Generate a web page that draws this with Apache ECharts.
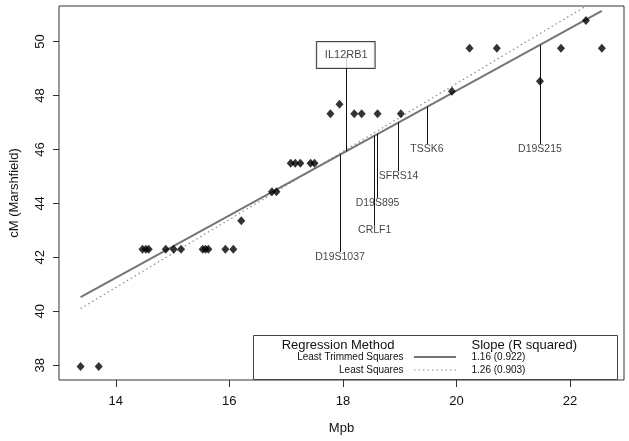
<!DOCTYPE html>
<html>
<head>
<meta charset="utf-8">
<script src="https://cdn.jsdelivr.net/npm/echarts@6/dist/echarts.min.js"></script>
<style>
html,body{margin:0;padding:0;background:#fff;}
#chart{width:629px;height:441px;}
</style>
</head>
<body>
<div id="chart"></div>
<script>
// ---- data ----
var markerMpb = [13.38, 13.70, 14.47, 14.53, 14.58, 14.88, 15.02, 15.15, 15.53, 15.58, 15.63, 15.93, 16.07,
  16.21, 16.75, 16.83, 17.08, 17.16, 17.25, 17.43, 17.50, 17.78, 17.94, 18.20, 18.33, 18.61, 19.02,
  19.92, 20.23, 20.71, 21.47, 21.84, 22.28, 22.56];
var markerCM = [37.95, 37.95, 42.30, 42.30, 42.30, 42.30, 42.30, 42.30, 42.30, 42.30, 42.30, 42.30, 42.30,
  43.36, 44.43, 44.43, 45.49, 45.49, 45.49, 45.49, 45.49, 47.32, 47.68, 47.32, 47.32, 47.32, 47.32,
  48.16, 49.75, 49.75, 48.53, 49.75, 50.78, 49.75];

var ltsLineX = [13.38, 22.56];
var ltsLineY = [40.52, 51.14];
var lsLineX = [13.38, 22.56];
var lsLineY = [40.10, 51.67];

var geneNames = ['D19S1037', 'CRLF1', 'D19S895', 'SFRS14', 'TSSK6', 'D19S215'];
var geneMpb   = [17.95, 18.56, 18.61, 18.98, 19.48, 21.47];
var geneFitCM = [45.81, 46.52, 46.58, 47.01, 47.59, 49.88];
var geneLabelCM = [42, 43, 44, 45, 46, 46];

var boxGeneName = 'IL12RB1';
var boxGeneMpb = 18.05;
var boxGeneFitCM = 45.93;
var boxGeneLabelCM = 49.5;

var xTicks = [14, 16, 18, 20, 22];
var yTicks = [38, 40, 42, 44, 46, 48, 50];

var legendMethods = ['Least Trimmed Squares', 'Least Squares'];
var legendSlopes = ['1.16 (0.922)', '1.26 (0.903)'];

// ---- build ----
var FONT = '"Liberation Sans", Arial, sans-serif';
var TXT = '#111';

var points = markerMpb.map(function (x, i) { return [x, markerCM[i]]; });
var lts = ltsLineX.map(function (x, i) { return [x, ltsLineY[i]]; });
var ls = lsLineX.map(function (x, i) { return [x, lsLineY[i]]; });

var labelData = geneNames.map(function (n, i) { return { name: n, value: [geneMpb[i], geneLabelCM[i]] }; });
var segs = geneNames.map(function (n, i) {
  return [{ coord: [geneMpb[i], geneFitCM[i]] }, { coord: [geneMpb[i], geneLabelCM[i] + 0.2] }];
});
segs.push([{ coord: [boxGeneMpb, boxGeneFitCM] }, { coord: [boxGeneMpb, boxGeneLabelCM] }]);

var chart = echarts.init(document.getElementById('chart'), null, { renderer: 'canvas' });

var legL = 253, legT = 335, legW = 364, legH = 44;

chart.setOption({
  animation: false,
  backgroundColor: '#fff',
  textStyle: { fontFamily: FONT },
  grid: { left: 57, right: 5, top: 6, bottom: 61, show: true, borderColor: '#333', borderWidth: 1, backgroundColor: 'transparent' },
  xAxis: {
    type: 'value', min: 13.0, max: 22.95,
    name: 'Mpb', nameLocation: 'middle', nameGap: 42,
    nameTextStyle: { fontSize: 13, color: TXT, fontFamily: FONT },
    axisLine: { show: false },
    axisTick: { show: true, length: 7, lineStyle: { color: '#333' }, customValues: xTicks },
    axisLabel: { fontSize: 13, color: TXT, margin: 15, fontFamily: FONT, customValues: xTicks },
    splitLine: { show: false }
  },
  yAxis: {
    type: 'value', min: 37.45, max: 51.32,
    name: 'cM (Marshfield)', nameLocation: 'middle', nameGap: 38,
    nameTextStyle: { fontSize: 13, color: TXT, fontFamily: FONT },
    axisLine: { show: false },
    axisTick: { show: true, length: 6, lineStyle: { color: '#333' }, customValues: yTicks },
    axisLabel: { fontSize: 13, color: TXT, margin: 12, rotate: 90, fontFamily: FONT, customValues: yTicks },
    splitLine: { show: false }
  },
  series: [
    {
      type: 'line', data: ls, showSymbol: false, symbol: 'none', z: 3,
      lineStyle: { color: '#8a8a86', width: 1.2, type: [1.5, 3] }
    },
    {
      type: 'line', data: lts, showSymbol: false, symbol: 'none', z: 4,
      lineStyle: { color: '#76766e', width: 2 }
    },
    {
      type: 'scatter', data: points, symbol: 'diamond', symbolSize: [8, 9], z: 5,
      itemStyle: { color: '#000' }
    },
    {
      type: 'scatter', data: labelData, symbolSize: 0, z: 6,
      label: { show: true, position: 'inside', formatter: '{b}', fontSize: 10.5, color: TXT, fontFamily: FONT },
      markLine: {
        silent: true, symbol: ['none', 'none'], label: { show: false },
        lineStyle: { color: '#111', width: 1, type: 'solid' },
        data: segs
      }
    },
    {
      type: 'scatter', data: [{ name: boxGeneName, value: [boxGeneMpb, boxGeneLabelCM] }], symbolSize: 0, z: 10,
      label: {
        show: true, position: 'inside', formatter: '{b}', fontSize: 11, color: TXT, fontFamily: FONT,
        backgroundColor: '#fff', borderColor: '#111', borderWidth: 1, padding: [8, 7, 7, 8]
      }
    }
  ],
  graphic: [
    { type: 'rect', shape: { x: legL + 0.5, y: legT + 0.5, width: legW, height: legH }, style: { fill: '#fff', stroke: '#444', lineWidth: 1 }, z: 20 },
    { type: 'text', x: 338, y: 345, style: { text: 'Regression Method', font: '13px ' + FONT, fill: TXT, textAlign: 'center', textVerticalAlign: 'middle' }, z: 21 },
    { type: 'text', x: 471.5, y: 345, style: { text: 'Slope (R squared)', font: '13px ' + FONT, fill: TXT, textAlign: 'left', textVerticalAlign: 'middle' }, z: 21 },
    { type: 'text', x: 403.5, y: 357, style: { text: legendMethods[0], font: '10px ' + FONT, fill: TXT, textAlign: 'right', textVerticalAlign: 'middle' }, z: 21 },
    { type: 'text', x: 403.5, y: 370, style: { text: legendMethods[1], font: '10px ' + FONT, fill: TXT, textAlign: 'right', textVerticalAlign: 'middle' }, z: 21 },
    { type: 'line', shape: { x1: 414, y1: 357, x2: 456, y2: 357 }, style: { stroke: '#76766e', lineWidth: 2 }, z: 21 },
    { type: 'line', shape: { x1: 414, y1: 370, x2: 456, y2: 370 }, style: { stroke: '#8a8a86', lineWidth: 1.2, lineDash: [1.5, 3] }, z: 21 },
    { type: 'text', x: 471.5, y: 357, style: { text: legendSlopes[0], font: '10px ' + FONT, fill: TXT, textAlign: 'left', textVerticalAlign: 'middle' }, z: 21 },
    { type: 'text', x: 471.5, y: 370, style: { text: legendSlopes[1], font: '10px ' + FONT, fill: TXT, textAlign: 'left', textVerticalAlign: 'middle' }, z: 21 }
  ]
});
</script>
</body>
</html>
